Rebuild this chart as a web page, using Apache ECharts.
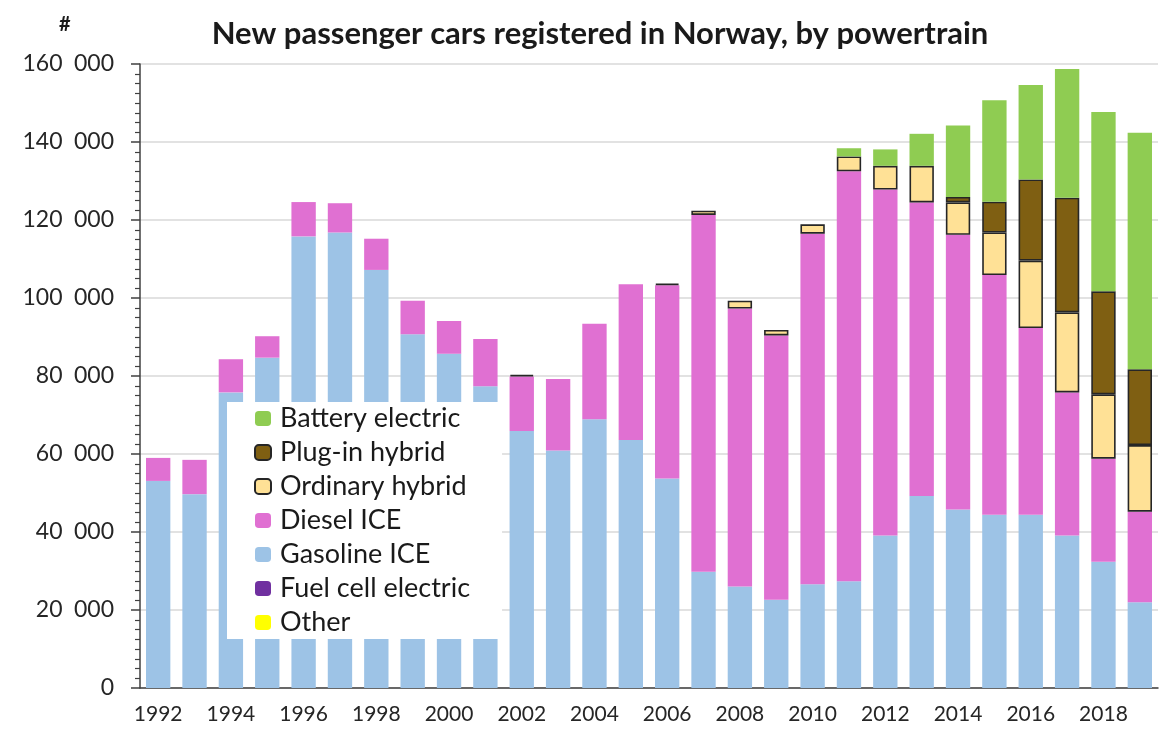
<!DOCTYPE html>
<html>
<head>
<meta charset="utf-8">
<script src="https://cdn.jsdelivr.net/npm/echarts@6/dist/echarts.min.js"></script>
<style>html,body{margin:0;padding:0;background:#fff;}#c{width:1169px;height:742px;}</style>
</head>
<body>
<div id="c"></div>
<script>
const years = ['1992','1993','1994','1995','1996','1997','1998','1999','2000','2001','2002','2003','2004','2005','2006','2007','2008','2009','2010','2011','2012','2013','2014','2015','2016','2017','2018','2019'];
const gasoline = [53100,49700,75800,84700,115800,116800,107200,90700,85700,77400,65900,60900,68900,63600,53700,29800,26000,22600,26600,27400,39100,49200,45800,44400,44400,39100,32400,22000];
const diesel = [5900,8800,8500,5500,8800,7500,8000,8600,8400,12100,14000,18300,24500,39900,49600,91500,71300,67800,89900,105100,88700,75300,70400,61500,47900,36700,26400,23200];
const ordinaryHybrid = [0,0,0,0,0,0,0,0,0,0,400,0,0,0,400,1100,2000,1400,2400,3800,6100,9400,8300,10900,17300,20500,16500,17100];
const plugInHybrid = [0,0,0,0,0,0,0,0,0,0,0,0,0,0,0,0,0,0,0,0,0,0,1400,7900,20800,29400,26400,19400];
const batteryElectric = [0,0,0,0,0,0,0,0,0,0,0,0,0,0,0,0,0,0,0,2100,4200,8200,18300,26000,24200,33000,46000,60700];
const fuelCell = [0,0,0,0,0,0,0,0,0,0,0,0,0,0,0,0,0,0,0,0,0,0,0,0,0,0,0,0];
const other = [0,0,0,0,0,0,0,0,0,0,0,0,0,0,0,0,0,0,0,0,0,0,0,0,0,0,0,0];
const yTicks = [0,20000,40000,60000,80000,100000,120000,140000,160000];

const FONT = 'Lato';
function fmt(v){ if (v === 0) return '0'; const s = String(v); return s.slice(0, s.length-3) + '\u2002' + s.slice(-3); }
function ser(name, data, color, border){
  return {
    name, type:'bar', stack:'all', data: data.map(v => v === 0 ? '-' : v), barCategoryGap:'33%',
    itemStyle: border ? {color, borderColor:'#262626', borderWidth:1.6} : {color},
    emphasis:{disabled:true}
  };
}
const chart = echarts.init(document.getElementById('c'), null, {renderer:'canvas'});
chart.setOption({
  animation:false,
  backgroundColor:'#fff',
  title:[
    {text:'New passenger cars registered in Norway, by powertrain', left:595, top:13, textAlign:'center',
     textStyle:{fontFamily:FONT, fontWeight:'bold', fontSize:31, color:'#1a1a1a'}},
    {text:'#', left:54, top:10, textStyle:{fontFamily:FONT, fontWeight:'bold', fontSize:20, color:'#1a1a1a'}}
  ],
  grid:{left:140, right:11, top:64, bottom:54, containLabel:false},
  legend:{
    orient:'vertical', left:227, top:402,
    data:['Battery electric','Plug-in hybrid','Ordinary hybrid','Diesel ICE','Gasoline ICE','Fuel cell electric','Other'],
    backgroundColor:'#fff', padding:[3,32,3,27],
    itemWidth:16, itemHeight:15, itemGap:7,
    textStyle:{fontFamily:FONT, fontSize:27, color:'#1a1a1a', lineHeight:27, padding:[0,0,0,4]},
    selectedMode:false
  },
  xAxis:{
    type:'category', data:years, boundaryGap:true,
    axisLine:{lineStyle:{color:'#404040', width:1.5}},
    axisTick:{interval:0, length:8, lineStyle:{color:'#404040', width:1.5}},
    axisLabel:{interval:1, fontFamily:FONT, fontSize:21, color:'#262626', margin:16}
  },
  yAxis:{
    type:'value', min:yTicks[0], max:yTicks[yTicks.length-1], interval:20000,
    axisLine:{show:true, lineStyle:{color:'#404040', width:1.5}},
    axisTick:{show:true, length:9, lineStyle:{color:'#404040', width:1.5}},
    minorTick:{show:true, splitNumber:8, length:5, lineStyle:{color:'#404040', width:1.2}},
    splitLine:{show:true, lineStyle:{color:'#d9d9d9', width:1.5}},
    axisLabel:{fontFamily:FONT, fontSize:23, color:'#262626', margin:26, formatter:fmt}
  },
  series:[
    ser('Gasoline ICE', gasoline, '#9DC3E6', false),
    ser('Diesel ICE', diesel, '#E070D2', false),
    ser('Ordinary hybrid', ordinaryHybrid, '#FFE196', true),
    ser('Plug-in hybrid', plugInHybrid, '#7F5F12', true),
    ser('Battery electric', batteryElectric, '#8FCC52', false),
    ser('Fuel cell electric', fuelCell, '#7030A0', false),
    ser('Other', other, '#FFFF00', false)
  ]
});
</script>
</body>
</html>
